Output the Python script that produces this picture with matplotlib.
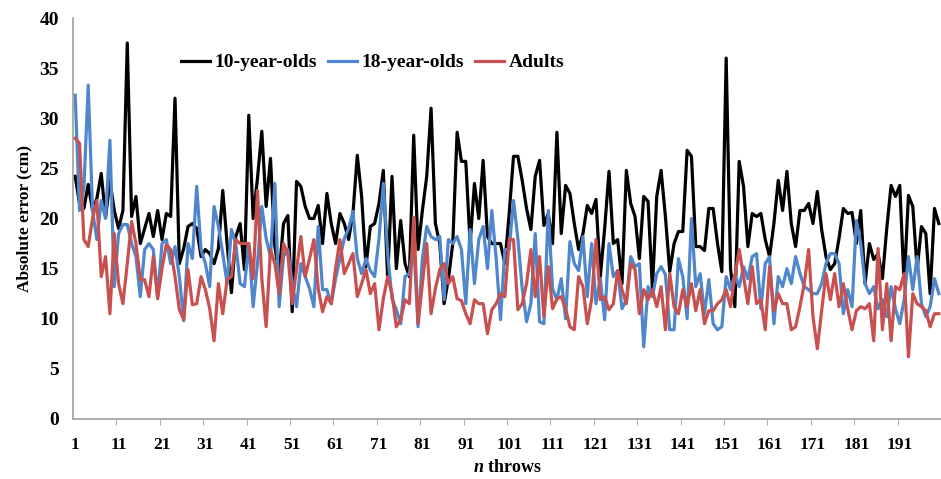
import numpy as np
import matplotlib.pyplot as plt
from matplotlib.ticker import FixedLocator

# Absolute error (cm) per throw
kids10 = [24.2, 21.5, 21.0, 23.4, 20.8, 22.0, 24.5, 20.1, 23.8, 20.8,
          19.0, 20.8, 37.5, 20.2, 22.2, 17.5, 19.0, 20.5, 18.2, 20.8,
          17.9, 20.5, 20.2, 32.0, 15.5, 17.0, 19.2, 19.5, 19.0, 16.2,
          16.9, 16.5, 15.5, 17.0, 22.8, 17.5, 12.6, 18.2, 19.5, 14.9,
          30.3, 20.0, 24.0, 28.7, 21.2, 26.0, 17.2, 14.5, 19.5, 20.3,
          10.7, 23.7, 23.2, 21.2, 20.0, 20.0, 21.3, 17.5, 22.5, 19.5,
          17.5, 20.5, 19.5, 17.9, 20.5, 26.3, 22.2, 15.2, 19.2, 19.5,
          21.5, 24.8, 14.0, 24.2, 15.0, 19.8, 15.5, 14.2, 28.3, 16.9,
          20.8, 24.2, 31.0, 19.5, 17.5, 11.5, 14.0, 17.5, 28.6, 25.7,
          25.7, 17.5, 23.5, 20.0, 25.8, 18.2, 17.5, 17.5, 17.5, 15.5,
          20.5, 26.2, 26.2, 23.8, 21.0, 18.9, 24.2, 25.8, 19.3, 20.5,
          17.5, 28.6, 18.5, 23.3, 22.5, 19.5, 16.9, 18.5, 21.3, 20.5,
          21.9, 14.2, 19.0, 24.7, 17.5, 17.9, 13.5, 24.8, 21.5, 20.2,
          16.0, 22.2, 21.7, 13.0, 22.2, 24.8, 20.2, 14.7, 17.5, 18.7,
          18.7, 26.8, 26.2, 17.2, 17.2, 16.8, 21.0, 21.0, 17.5, 14.7,
          36.0, 15.0, 11.2, 25.7, 23.2, 17.2, 20.5, 20.2, 20.5, 17.9,
          16.2, 19.5, 23.8, 20.8, 24.7, 19.5, 17.2, 20.8, 20.8, 21.5,
          19.5, 22.7, 18.9, 16.2, 14.9, 15.5, 18.0, 21.0, 20.5, 20.6,
          17.5, 20.8, 13.5, 17.5, 15.9, 16.5, 14.0, 19.0, 23.3, 22.2,
          23.3, 13.5, 22.3, 21.2, 14.9, 19.2, 18.5, 12.5, 21.0, 19.5]

teens18 = [32.3, 20.8, 23.0, 33.3, 20.8, 17.9, 21.8, 20.0, 27.8, 13.2,
           18.5, 19.4, 19.4, 17.5, 16.2, 12.2, 16.9, 17.5, 16.9, 12.2,
           17.5, 17.9, 15.5, 17.2, 14.2, 9.8, 17.5, 16.0, 23.2, 16.9,
           15.5, 13.2, 21.2, 19.2, 16.5, 13.5, 18.9, 17.5, 13.5, 13.2,
           17.5, 11.2, 15.5, 21.2, 18.0, 16.2, 23.5, 11.2, 16.2, 16.9,
           13.5, 11.2, 15.5, 14.2, 13.0, 11.2, 19.2, 12.9, 12.9, 11.5,
           14.0, 16.0, 18.0, 19.0, 20.7, 16.0, 14.5, 16.0, 14.8, 14.2,
           18.0, 23.5, 16.5, 12.0, 10.9, 9.5, 14.2, 14.5, 17.5, 9.2,
           16.0, 19.2, 18.2, 17.9, 18.2, 11.9, 17.9, 17.5, 18.2, 16.9,
           11.5, 18.9, 13.5, 17.9, 19.2, 15.0, 20.8, 16.0, 9.9, 16.9,
           16.9, 21.8, 18.0, 13.0, 9.7, 11.5, 18.5, 9.7, 9.5, 20.8,
           13.0, 11.9, 14.0, 10.0, 17.7, 15.5, 14.8, 18.2, 12.2, 17.5,
           11.5, 14.0, 9.9, 17.5, 14.2, 14.8, 11.0, 11.9, 16.2, 15.2,
           15.5, 7.2, 13.2, 12.2, 14.5, 15.2, 14.4, 8.9, 8.9, 16.0,
           14.2, 10.0, 20.0, 13.2, 14.5, 10.5, 13.9, 9.5, 8.9, 9.2,
           14.2, 12.9, 14.4, 13.2, 15.2, 14.0, 16.2, 16.5, 11.0, 15.5,
           16.2, 9.5, 14.2, 13.2, 15.0, 13.5, 16.2, 14.5, 13.2, 12.9,
           12.5, 12.5, 13.5, 15.5, 16.5, 16.5, 15.5, 10.5, 12.9, 11.2,
           19.8, 17.5, 13.5, 12.5, 13.2, 11.0, 11.9, 10.2, 13.2, 11.0,
           9.5, 11.9, 16.2, 12.9, 16.2, 11.5, 10.2, 11.2, 14.0, 12.5]

adults = [28.0, 27.5, 17.9, 17.2, 20.0, 21.8, 14.2, 16.2, 10.5, 18.5,
          13.5, 11.5, 15.5, 19.7, 17.5, 13.9, 13.9, 12.2, 16.2, 12.0,
          15.0, 17.4, 16.9, 14.2, 10.9, 9.9, 14.9, 11.4, 11.5, 14.2,
          12.9, 11.0, 7.8, 13.5, 10.5, 13.9, 14.2, 17.9, 17.5, 17.5,
          17.5, 14.0, 22.8, 14.0, 9.2, 16.9, 15.5, 12.5, 17.5, 16.5,
          11.5, 14.9, 18.2, 14.2, 16.0, 17.9, 13.0, 10.7, 12.2, 11.5,
          15.0, 17.9, 14.5, 15.5, 16.5, 12.2, 13.5, 14.9, 12.5, 13.5,
          8.9, 12.0, 14.2, 12.5, 9.2, 9.9, 11.9, 11.5, 20.1, 9.5,
          13.5, 17.5, 10.5, 13.0, 14.9, 15.5, 13.5, 14.2, 12.0, 11.8,
          10.5, 9.5, 11.9, 11.5, 11.5, 8.5, 10.9, 11.5, 12.5, 12.2,
          17.9, 17.9, 10.9, 11.5, 13.5, 16.9, 12.2, 16.2, 10.2, 15.2,
          11.0, 12.0, 12.2, 11.0, 9.2, 8.9, 14.2, 13.2, 9.5, 11.9,
          17.9, 11.9, 12.2, 10.9, 11.5, 14.8, 12.9, 11.5, 15.5, 14.9,
          10.5, 12.9, 11.9, 12.9, 11.2, 13.2, 8.9, 14.5, 11.2, 10.5,
          12.9, 11.2, 13.5, 10.8, 12.9, 9.5, 10.8, 10.8, 11.5, 11.9,
          12.9, 11.2, 14.2, 16.9, 14.2, 11.5, 15.2, 11.5, 11.9, 8.9,
          15.2, 10.8, 12.5, 11.5, 11.5, 8.9, 9.2, 11.2, 13.5, 16.9,
          10.2, 7.0, 10.8, 14.5, 11.9, 14.5, 11.2, 13.5, 11.0, 8.9,
          10.8, 11.2, 11.0, 11.5, 7.8, 17.0, 8.9, 13.5, 7.8, 13.2,
          12.9, 14.5, 6.2, 12.5, 11.5, 11.2, 10.8, 9.2, 10.5, 10.5]

throws = np.arange(1, len(kids10) + 1)
tick_labels = [str(t) for t in range(1, 200, 10)]

plt.rcParams['font.family'] = ['Liberation Serif', 'DejaVu Serif']
plt.rcParams['font.weight'] = 'bold'
plt.rcParams['mathtext.fontset'] = 'custom'
plt.rcParams['mathtext.bfit'] = 'Liberation Serif:italic:bold'

fig = plt.figure(figsize=(9.41, 4.79), dpi=100)
ax = fig.add_axes([0.0776, 0.1253, 0.9224, 0.8371])

ax.plot(throws, kids10, color='black', lw=2.3, label='10-year-olds')
ax.plot(throws, teens18, color='#4F86CC', lw=2.3, label='18-year-olds')
ax.plot(throws, adults, color='#C8504F', lw=2.3, label='Adults')

ax.set_xlim(0.5, 200.5)
ax.set_ylim(0, 40)
ax.set_yticks(range(0, 41, 5))
ax.set_xticks(range(1, 200, 10))
ax.set_xticklabels(tick_labels)
ax.xaxis.set_minor_locator(FixedLocator(np.arange(10.5, 200, 10)))
ax.tick_params(axis='x', which='major', length=0, pad=13, labelsize=12.5)
ax.tick_params(axis='x', which='minor', length=4, color='#A0A0A0', direction='out')
ax.tick_params(axis='y', length=0, pad=10, labelsize=14)

for s in ['top', 'right']:
    ax.spines[s].set_visible(False)
for s in ['left', 'bottom']:
    ax.spines[s].set_color('#A0A0A0')
    ax.spines[s].set_linewidth(1.2)

ax.set_ylabel('Absolute error (cm)', fontsize=12.5, fontweight='bold', labelpad=5)
ax.set_xlabel('$\\mathbfit{n}$ throws', fontsize=13, fontweight='bold', labelpad=4)

ax.legend(loc='upper left', bbox_to_anchor=(0.115, 0.93), ncol=3, frameon=False,
          fontsize=14, handlelength=1.5, handletextpad=0.25, columnspacing=0.55,
          borderaxespad=0)

fig.savefig('out.png', dpi=100)
plt.close(fig)
